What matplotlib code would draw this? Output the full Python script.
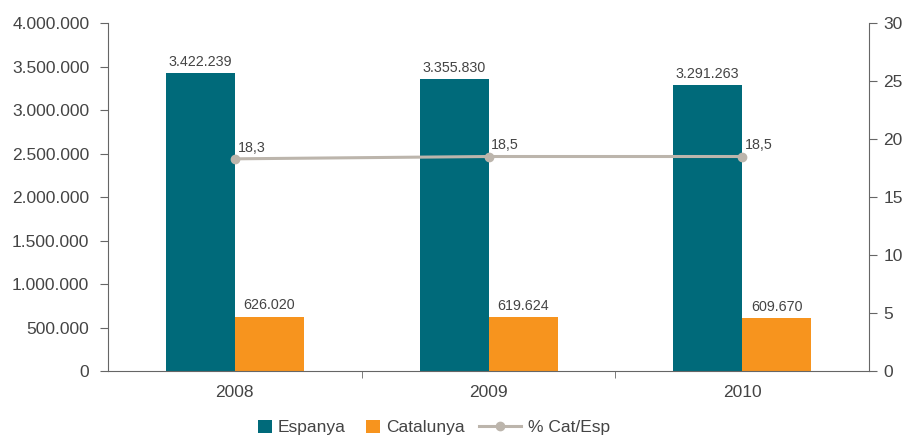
import matplotlib.pyplot as plt
import numpy as np

years = ['2008', '2009', '2010']
espanya = [3422239, 3355830, 3291263]
catalunya = [626020, 619624, 609670]
pct_cat_esp = [18.3, 18.5, 18.5]

teal = '#006a7a'
orange = '#f7941e'
grey_line = '#bcb5ac'
axis_col = '#666666'
text_col = '#444444'

plt.rcParams['font.family'] = ['Liberation Sans', 'DejaVu Sans']


def fmt_thousands(v):
    return f'{v:,.0f}'.replace(',', '.')


fig = plt.figure(figsize=(9.04, 4.37), dpi=100)
ax = fig.add_axes([0.1195, 0.151, 0.8418, 0.796])
x = np.arange(len(years))
w = 0.272

b1 = ax.bar(x - w / 2, espanya, w, color=teal, label='Espanya')
b2 = ax.bar(x + w / 2, catalunya, w, color=orange, label='Catalunya')
for bars, vals in ((b1, espanya), (b2, catalunya)):
    for rect, v in zip(bars, vals):
        ax.annotate(fmt_thousands(v), (rect.get_x() + rect.get_width() / 2, v),
                    xytext=(0, 3), textcoords='offset points', ha='center', va='bottom',
                    fontsize=10.3, color=text_col)

ax.set_xlim(-0.5, 2.5)
ax.set_ylim(0, 4000000)
ax.set_yticks(np.arange(0, 4000001, 500000))
ax.set_yticklabels([fmt_thousands(v) for v in np.arange(0, 4000001, 500000)])
ax.set_xticks(x)
ax.set_xticklabels(years)
ax.set_xticks([0.5, 1.5], minor=True)
ax.tick_params(axis='x', which='major', length=0, pad=10, labelsize=12.5, labelcolor=text_col)
ax.tick_params(axis='x', which='minor', length=5, color=axis_col, direction='out')
ax.tick_params(axis='y', length=5.5, color=axis_col, labelsize=12.5, labelcolor=text_col, pad=8)
ax.spines['top'].set_visible(False)
ax.spines['right'].set_visible(False)
ax.spines['left'].set_color(axis_col)
ax.spines['bottom'].set_color(axis_col)

ax2 = ax.twinx()
ln, = ax2.plot(x, pct_cat_esp, color=grey_line, lw=2.2, marker='o', ms=6, label='% Cat/Esp')
for xi, v in zip(x, pct_cat_esp):
    ax2.annotate(f'{v:.1f}'.replace('.', ','), (xi, v), xytext=(2, 3),
                 textcoords='offset points', ha='left', va='bottom',
                 fontsize=10.3, color=text_col)
ax2.set_ylim(0, 30)
ax2.set_yticks(range(0, 31, 5))
ax2.tick_params(axis='y', length=5.5, color=axis_col, labelsize=12.5, labelcolor=text_col, pad=5)
ax2.spines['top'].set_visible(False)
ax2.spines['left'].set_visible(False)
ax2.spines['bottom'].set_visible(False)
ax2.spines['right'].set_color(axis_col)

# two legends so the bar swatches stay square while the line swatch stays long
leg_y = 0.022
leg1 = fig.legend(handles=[b1, b2], loc='center left', bbox_to_anchor=(0.2854, leg_y), ncol=2,
                  frameon=False, fontsize=12.5, handlelength=0.8, handleheight=0.8,
                  handletextpad=0.35, columnspacing=1.15, borderpad=0, borderaxespad=0,
                  labelcolor=text_col)
fig.legend(handles=[ln], loc='center left', bbox_to_anchor=(0.530, leg_y),
           frameon=False, fontsize=12.5, handlelength=2.4, handletextpad=0.4,
           borderpad=0, borderaxespad=0, labelcolor=text_col)

fig.savefig('out.png', dpi=100)
